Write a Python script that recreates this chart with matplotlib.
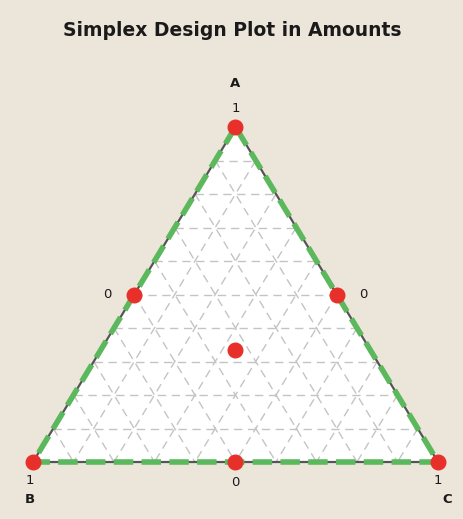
import numpy as np
import matplotlib.pyplot as plt

# mixture components and design points (A, B, C amounts)
components = ['A', 'B', 'C']
pts_a = [1, 0, 0, 0.5, 0.5, 0, 1/3]
pts_b = [0, 1, 0, 0.5, 0, 0.5, 1/3]
pts_c = [0, 0, 1, 0, 0.5, 0.5, 1/3]
n_div = 10


def to_xy(a, b, c):
    a = np.asarray(a, float)
    c = np.asarray(c, float)
    return c + a * 0.5, a


bg = '#ECE6DA'
fig = plt.figure(figsize=(4.64, 5.19), dpi=100, facecolor=bg)
ax = fig.add_axes([0, 0, 1, 1])
ax.set_facecolor(bg)
ax.set_xlim(-33 / 405, 431 / 405)
ax.set_ylim(-57 / 335, 462 / 335)
ax.axis('off')

# white triangle
tx, ty = to_xy([1, 0, 0, 1], [0, 1, 0, 0], [0, 0, 1, 0])
ax.fill(tx, ty, color='white', zorder=0)

# grid lines at constant A, B, C
for i in range(1, n_div):
    f = i / n_div
    g = 1 - f
    for p, q in [((f, g, 0), (f, 0, g)), ((g, f, 0), (0, f, g)), ((g, 0, f), (0, g, f))]:
        xs, ys = to_xy([p[0], q[0]], [p[1], q[1]], [p[2], q[2]])
        ax.plot(xs, ys, color='#c4c4c4', lw=1.0, ls=(0, (6, 4)), zorder=1)

# edges: solid dark line with green dashed overlay
ax.plot(tx, ty, color='#555555', lw=1.6, zorder=2)
ax.plot(tx, ty, color='#5cb85c', lw=4, ls=(0, (3.5, 1.5)), zorder=3)

# design points
px, py = to_xy(pts_a, pts_b, pts_c)
ax.plot(px, py, 'o', color='#e8302a', ms=10.5, mec='#e8302a', zorder=5, clip_on=False)

# vertex and edge labels
lab = dict(ha='center', va='center', fontsize=9.5, color='#1a1a1a')
ax.text(0.5, 1.13, 'A', fontweight='bold', **lab)
ax.text(0.5, 1.055, '1', **lab)
ax.text(-0.007, -0.055, '1', **lab)
ax.text(-0.007, -0.113, 'B', fontweight='bold', **lab)
ax.text(1.0, -0.055, '1', **lab)
ax.text(1.022, -0.113, 'C', fontweight='bold', **lab)
ax.text(0.5, -0.06, '0', **lab)
ax.text(0.183, 0.5, '0', **lab)
ax.text(0.815, 0.5, '0', **lab)

fig.text(0.5, 1 - 30 / 519, 'Simplex Design Plot in Amounts', ha='center', va='center',
         fontsize=13.5, fontweight='bold', color='#1a1a1a')

fig.savefig('out.png', dpi=100, facecolor=bg)
